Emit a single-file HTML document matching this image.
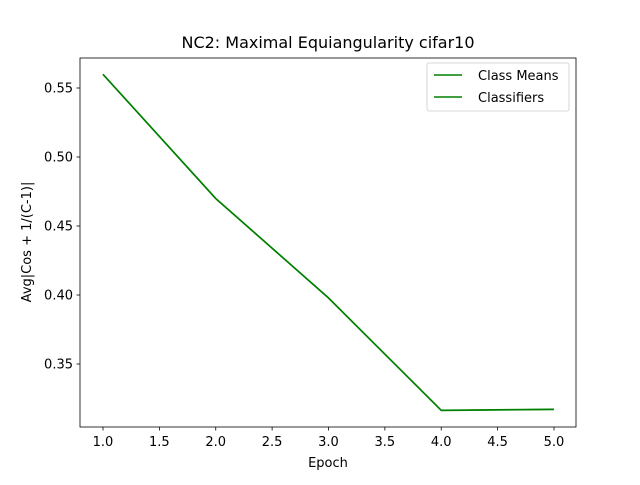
<!DOCTYPE html>
<html><head><meta charset="utf-8"><style>body{margin:0;background:#fff}svg{font-family:"DejaVu Sans","Liberation Sans",sans-serif}</style></head>
<body>
<svg id="chart" width="640" height="480" viewBox="0 0 640 480">
<rect width="640" height="480" fill="#fff"/>
<text x="328" y="48" font-size="16" text-anchor="middle">NC2: Maximal Equiangularity cifar10</text>
<g id="axes"></g>
<rect x="80" y="58" width="496" height="369" fill="none" stroke="#000" stroke-width="0.8"/>
<g>
<rect x="427" y="63" width="142" height="48" rx="2" fill="#fff" stroke="#ccc" stroke-width="0.8"/>
<line x1="434" y1="75" x2="462" y2="75" stroke="green" stroke-width="1.5"/>
<text x="478" y="80" font-size="13">Class Means</text>
<line x1="434" y1="97" x2="462" y2="97" stroke="green" stroke-width="1.5"/>
<text x="478" y="102" font-size="13">Classifiers</text>
</g>
<text x="328" y="467" font-size="13" text-anchor="middle">Epoch</text>
<text transform="translate(31,242) rotate(-90)" font-size="13" text-anchor="middle">Avg|Cos + 1/(C-1)|</text>
</svg>
<script>
const epochs=[1,2,3,4,5];
const classMeans=[0.560,0.470,0.398,0.3165,0.3172];
const classifiers=[0.5598,0.4698,0.3978,0.3163,0.3170];
const xTicks=[1.0,1.5,2.0,2.5,3.0,3.5,4.0,4.5,5.0];
const yTicks=[0.35,0.40,0.45,0.50,0.55];
const NS="http://www.w3.org/2000/svg";
const g=document.getElementById('axes');
const xs=v=>103+(v-1)*(554-103)/4;
const ys=v=>88+(0.55-v)*1380;
function mk(t,a){const e=document.createElementNS(NS,t);for(const k in a)e.setAttribute(k,a[k]);g.appendChild(e);return e;}
xTicks.forEach(v=>{const l=mk('line',{x1:xs(v),x2:xs(v),y1:427,y2:430.5,stroke:'#000','stroke-width':0.8});


const t=mk('text',{x:xs(v),y:446,'font-size':13,'text-anchor':'middle'});t.textContent=v.toFixed(1);

});
yTicks.forEach(v=>{const l=mk('line',{x1:76.5,x2:80,y1:ys(v),y2:ys(v),stroke:'#000','stroke-width':0.8});


const t=mk('text',{x:73,y:ys(v)+4.5,'font-size':13,'text-anchor':'end'});t.textContent=v.toFixed(2);

});
[[classMeans,'class-means-line'],[classifiers,'classifiers-line']].forEach(([d,n])=>{
const p=mk('polyline',{points:epochs.map((e,i)=>xs(e)+','+ys(d[i])).join(' '),fill:'none',stroke:'green','stroke-width':1.5});

});
</script>
</body></html>
